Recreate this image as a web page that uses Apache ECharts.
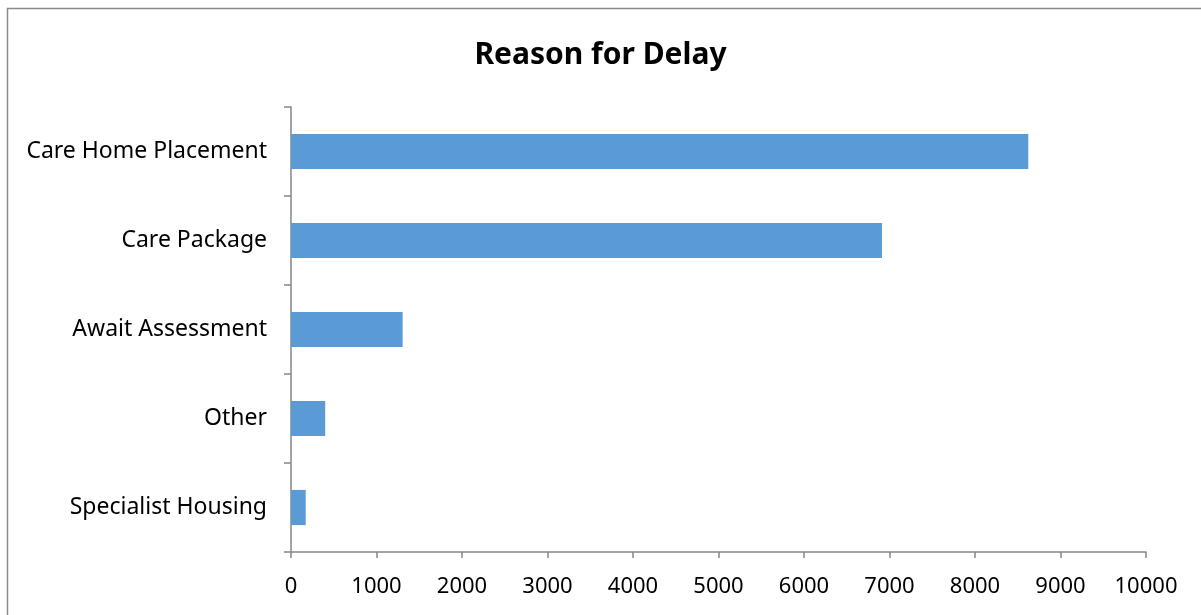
<!DOCTYPE html>
<html>
<head>
<meta charset="utf-8">
<script src="https://cdn.jsdelivr.net/npm/echarts@6/dist/echarts.min.js"></script>
<style>
  html, body { margin: 0; padding: 0; background: #fff; }
  #main { width: 1201px; height: 615px; }
</style>
</head>
<body>
<div id="main"></div>
<script>
// reason categories, bottom to top as the axis draws them
var categories = ['Specialist Housing', 'Other', 'Await Assessment', 'Care Package', 'Care Home Placement'];
var delays = [172, 400, 1306, 6912, 8623];

var chart = echarts.init(document.getElementById('main'), null, { renderer: 'canvas' });

var option = {
  animation: false,
  backgroundColor: '#ffffff',
  title: {
    text: 'Reason for Delay',
    left: 'center',
    top: 35,
    textStyle: {
      fontFamily: 'Noto Sans',
      fontWeight: 'bold',
      fontSize: 30,
      color: '#000'
    }
  },
  graphic: [{
    type: 'rect',
    shape: { x: 7.5, y: 8.5, width: 1200, height: 620 },
    style: { fill: 'none', stroke: '#8a8a8a', lineWidth: 1.5 },
    silent: true
  }],
  grid: {
    left: 291,
    right: 55,
    top: 107,
    bottom: 63
  },
  xAxis: {
    type: 'value',
    min: 0,
    max: 10000,
    interval: 1000,
    splitLine: { show: false },
    axisLine: { show: true, lineStyle: { color: '#868686', width: 1.5 } },
    axisTick: { show: true, length: 6, lineStyle: { color: '#868686', width: 1.5 } },
    axisLabel: {
      margin: 24,
      fontFamily: 'Noto Sans',
      fontSize: 22,
      color: '#000',
      formatter: function (v) { return String(v); }
    }
  },
  yAxis: {
    type: 'category',
    data: categories,
    axisLine: { show: true, lineStyle: { color: '#868686', width: 1.5 } },
    axisTick: { show: true, length: 7, lineStyle: { color: '#868686', width: 1.5 } },
    axisLabel: {
      margin: 24,
      fontFamily: 'Noto Sans',
      fontSize: 23,
      color: '#000'
    }
  },
  series: [{
    type: 'bar',
    data: delays,
    barWidth: '39.5%',
    itemStyle: { color: '#5b9bd5' }
  }]
};

chart.setOption(option);
</script>
</body>
</html>
